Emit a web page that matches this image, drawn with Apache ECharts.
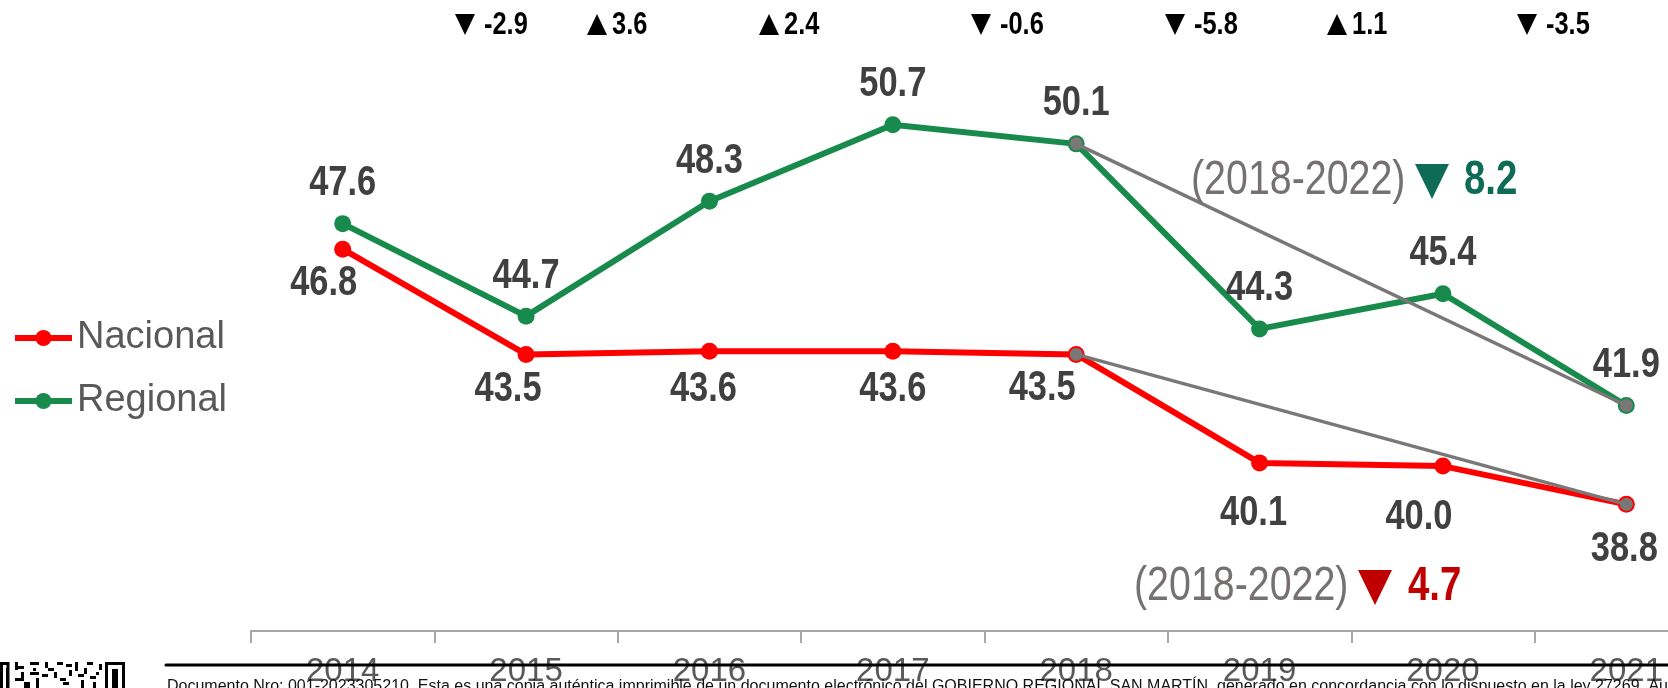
<!DOCTYPE html>
<html>
<head>
<meta charset="utf-8">
<script src="https://cdn.jsdelivr.net/npm/echarts@6/dist/echarts.min.js"></script>
<style>
  html, body { margin: 0; padding: 0; background: #fff; overflow: hidden; width: 1668px; height: 688px; }
  /* the plot runs past the right edge of the window, like the original crop */
  #chart { width: 1718px; height: 688px; }
</style>
</head>
<body>
<div id="chart"></div>
<script>
// Nacional vs Regional line chart, 2014-2021, with 2018->last trend lines and yearly change notes.
const years = ["2014", "2015", "2016", "2017", "2018", "2019", "2020", "2021"];
const nacional = [46.8, 43.5, 43.6, 43.6, 43.5, 40.1, 40.0, 38.8];
const regional = [47.6, 44.7, 48.3, 50.7, 50.1, 44.3, 45.4, 41.9];
const trendNacional = [null, null, null, null, 43.5, null, null, 38.8];
const trendRegional = [null, null, null, null, 50.1, null, null, 41.9];
const changes = ["▼ -2.9", "▲3.6", "▲2.4", "▼ -0.6", "▼ -5.8", "▲1.1", "▼ -3.5"];
const changeX = [455, 587, 759, 971, 1165, 1327, 1517];
// label offsets (px) from each point
const nacOffsets = [[-19, 34], [-18, 35], [-6, 38], [0, 38], [-34, 34], [-6, 51], [-24, 51], [-2, 45]];
const regOffsets = years.map(() => [0, -40]);

const SANS = "'Liberation Sans', Arial, sans-serif";
const NARROW = 0.82; // the original uses a narrow face; squeeze Liberation Sans to match
const RED = "#ff0000", GREEN = "#178a4c", GREY = "#7a7777", LABEL = "#404040";

const chart = echarts.init(document.getElementById("chart"), null, { renderer: "canvas" });

function trend(name, values) {
  return {
    name, type: "line", data: values, connectNulls: true, z: 5,
    symbol: "circle", symbolSize: 13, itemStyle: { color: GREY },
    lineStyle: { color: GREY, width: 3.5 }, label: { show: false }, silent: true,
  };
}

// value labels drawn through the axes, squeezed horizontally
function labels(name, values, offsets) {
  return {
    name, type: "custom", z: 10, silent: true,
    data: values.map((v, i) => [i, v]),
    renderItem: (params, api) => {
      const v = api.value(1);
      const [x, y] = api.coord([api.value(0), v]);
      const off = offsets[params.dataIndex];
      return {
        type: "text", x: x + off[0], y: y + off[1], scaleX: NARROW,
        style: { text: v.toFixed(1), font: `bold 42px ${SANS}`, fill: LABEL, textAlign: "center", textVerticalAlign: "middle" },
      };
    },
  };
}

function tri(x, yTop, w, h, up, color) {
  const pts = up ? [[x, yTop + h], [x + w / 2, yTop], [x + w, yTop + h]] : [[x, yTop], [x + w, yTop], [x + w / 2, yTop + h]];
  return { type: "polygon", z: 50, shape: { points: pts }, style: { fill: color } };
}

// top row of yearly changes
const changeMarks = [];
changes.forEach((t, i) => {
  const up = t[0] === "▲";
  changeMarks.push(tri(changeX[i], 14, 20, 21, up, "#000"));
  changeMarks.push({
    type: "text", x: changeX[i] + (up ? 25 : 29), y: 25, z: 50, scaleX: 0.82,
    style: { text: t.slice(1).trim(), font: `bold 31px ${SANS}`, fill: "#000", textAlign: "left", textVerticalAlign: "middle" },
  });
});

// "(2018-2022) ▼ x" notes
function periodNote(x, yMid, value, color, triX, valX) {
  return [
    { type: "text", x, y: yMid, z: 50, scaleX: NARROW,
      style: { text: "(2018-2022)", font: `48px ${SANS}`, fill: "#767171", textVerticalAlign: "middle" } },
    tri(triX, yMid - 17, 34, 35, false, color),
    { type: "text", x: valX, y: yMid, z: 50, scaleX: 0.8,
      style: { text: value, font: `bold 48px ${SANS}`, fill: color, textVerticalAlign: "middle" } },
  ];
}

// a rough QR block in the corner of the footer
const qrCells = [
  [0, 662, 3, 26], [6, 668, 3, 20], [15, 662, 3, 8], [18, 666, 6, 3], [21, 672, 3, 6], [15, 678, 9, 3],
  [30, 662, 9, 3], [33, 668, 3, 3], [30, 672, 9, 3], [36, 678, 3, 10], [45, 662, 3, 6], [48, 668, 6, 3],
  [57, 662, 6, 3], [54, 672, 3, 6], [60, 678, 6, 3], [66, 664, 6, 3], [69, 670, 3, 6], [75, 662, 3, 9],
  [78, 674, 6, 3], [87, 662, 6, 3], [84, 668, 3, 6], [90, 676, 6, 3], [93, 682, 3, 6],
  [24, 682, 6, 6], [42, 674, 6, 3], [63, 682, 6, 3], [81, 680, 3, 8], [99, 664, 3, 6], [96, 672, 3, 3],
];
const qr = qrCells.map(([x, y, w, h]) => ({ type: "rect", shape: { x, y, width: w, height: h }, style: { fill: "#000" } }));
qr.push(
  { type: "rect", shape: { x: 106.5, y: 663.5, width: 17, height: 30 }, style: { fill: "none", stroke: "#000", lineWidth: 3 } },
  { type: "rect", shape: { x: 112, y: 669, width: 6, height: 20 }, style: { fill: "#000" } },
  { type: "rect", shape: { x: -6, y: 663.5, width: 14, height: 30 }, style: { fill: "none", stroke: "#000", lineWidth: 3 } }
);

const option = {
  animation: false,
  backgroundColor: "#fff",
  grid: { left: 251, top: 0, right: 0, bottom: 53, containLabel: false },
  legend: {
    data: [
      { name: "Nacional", lineStyle: { width: 6 } },
      { name: "Regional", lineStyle: { width: 6 } },
    ],
    orient: "vertical", left: 12, top: 319, padding: 0, itemGap: 25,
    itemWidth: 57, itemHeight: 20, textStyle: { fontFamily: SANS, fontSize: 38, color: "#595959" },
  },
  xAxis: {
    type: "category", data: years,
    axisLine: { lineStyle: { color: "#a6a6a6", width: 2 } },
    axisTick: { show: true, length: 12, lineStyle: { color: "#a6a6a6", width: 2 } },
    axisLabel: { fontFamily: SANS, fontSize: 33, color: "#595959", margin: 24 },
  },
  yAxis: { type: "value", show: false, min: 34.83, max: 54.61, splitLine: { show: false } },
  series: [
    {
      name: "Nacional", type: "line", z: 3, data: nacional,
      symbol: "circle", symbolSize: 17, itemStyle: { color: RED },
      lineStyle: { color: RED, width: 6 },
    },
    {
      name: "Regional", type: "line", z: 4, data: regional,
      symbol: "circle", symbolSize: 17, itemStyle: { color: GREEN },
      lineStyle: { color: GREEN, width: 6 },
    },
    trend("Tendencia regional", trendRegional),
    trend("Tendencia nacional", trendNacional),
    labels("Nacional etiquetas", nacional, nacOffsets),
    labels("Regional etiquetas", regional, regOffsets),
  ],
  graphic: [
    ...changeMarks,
    ...periodNote(1191, 181, "8.2", "#0e6b55", 1415, 1464),
    ...periodNote(1134, 587, "4.7", "#c00000", 1358, 1408),
    // footer: rule, document note and QR
    { type: "line", z: 100, shape: { x1: 166, y1: 665, x2: 1718, y2: 665 }, style: { stroke: "#000", lineWidth: 3, lineCap: "round" } },
    {
      type: "text", x: 167, y: 679, z: 100,
      style: {
        text: "Documento Nro: 001-2023305210. Esta es una copia auténtica imprimible de un documento electrónico del GOBIERNO REGIONAL SAN MARTÍN, generado en concordancia con lo dispuesto en la ley 27269. Autenticidad e integridad",
        font: `16px ${SANS}`, fill: "#111", textVerticalAlign: "top",
      },
    },
    { type: "group", z: 100, children: qr },
  ],
};

chart.setOption(option);
window.addEventListener("resize", () => chart.resize());
</script>
</body>
</html>
